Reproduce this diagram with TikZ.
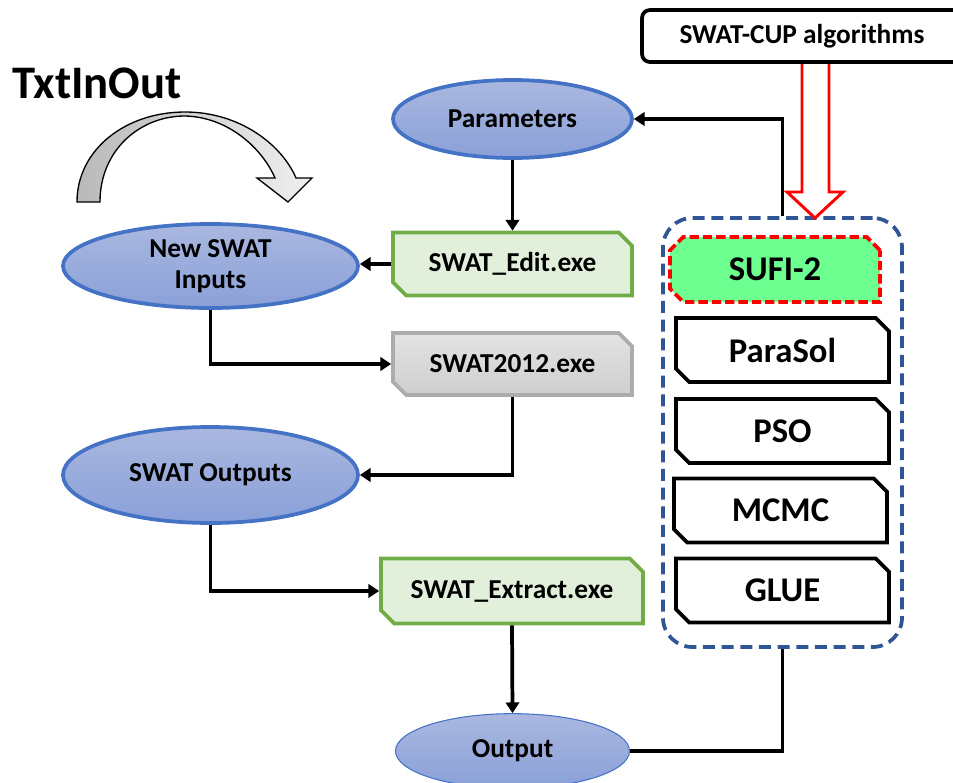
\documentclass[tikz,border=0pt]{standalone}
\usepackage{fontspec}
\setmainfont{Carlito}
\usetikzlibrary{shapes.geometric,shapes.misc,arrows.meta,calc}
\definecolor{elborder}{RGB}{68,114,196}
\definecolor{eltop}{RGB}{170,184,224}
\definecolor{elbot}{RGB}{138,160,216}
\definecolor{exefill}{RGB}{226,239,218}
\definecolor{exeborder}{RGB}{112,173,71}
\definecolor{contblue}{RGB}{47,85,151}
\definecolor{sufigreen}{RGB}{110,255,145}
\begin{document}
\begin{tikzpicture}[x=0.75pt,y=-0.75pt,
  ell/.style={ellipse, draw=elborder, line width=2.8pt, top color=eltop, bottom color=elbot, inner sep=0pt, align=center, font=\bfseries\fontsize{20.5}{23.5}\selectfont},
  chbox/.style={chamfered rectangle, chamfered rectangle corners={north east,south west}, chamfered rectangle sep=5pt, line width=2.8pt, inner sep=0pt, font=\bfseries\fontsize{20.5}{23.5}\selectfont},
  exe/.style={chbox, draw=exeborder, fill=exefill},
  alg/.style={chbox, draw=black, fill=white, font=\bfseries\fontsize{26}{30}\selectfont, minimum width=159.75pt, minimum height=48pt},
  conn/.style={line width=2.8pt, -{Triangle[length=8pt,width=10pt]}},
  plain/.style={line width=2.8pt}
]
\clip (0,0) rectangle (953,782);

% title and curved arrow
\node[font=\bfseries\fontsize{35}{40}\selectfont, anchor=base west, inner sep=0pt] (txt) at (12,98) {TxtInOut};
\draw[line width=1pt, left color=gray!55, right color=gray!12]
  (77,202) .. controls (77,150) and (125,112) .. (185,112)
  .. controls (240,112) and (282,145) .. (296,178)
  -- (312,178) -- (288,202) -- (257,178) -- (275,178)
  .. controls (262,148) and (228,117) .. (185,116)
  .. controls (140,116) and (100,150) .. (100,202) -- cycle;

% ellipses
\node[ell, minimum width=179.25pt, minimum height=58.5pt] (par) at (512.5,119) {Parameters};
\node[ell, minimum width=221.25pt, minimum height=63pt] (nsi) at (210.5,266) {New SWAT\\Inputs};
\node[ell, minimum width=221.25pt, minimum height=72pt] (swo) at (210.5,475) {SWAT Outputs};
\node[ell, line width=0.8pt, minimum width=175.5pt, minimum height=56pt] (out) at (512.5,751) {Output};

% exe boxes
\node[exe, minimum width=179.25pt, minimum height=47.25pt] (edit) at (512.5,264) {SWAT\_Edit.exe};
\node[chbox, draw=gray!65, top color=gray!22, bottom color=gray!38, minimum width=179.25pt, minimum height=46.5pt] (s2012) at (512.5,364) {SWAT2012.exe};
\node[exe, minimum width=196.5pt, minimum height=48.75pt] (extr) at (512,591) {SWAT\_Extract.exe};

% SWAT-CUP
\node[draw, line width=2.8pt, rounded corners=6pt, minimum width=240pt, minimum height=39pt, font=\bfseries\fontsize{20.5}{23.5}\selectfont] (cup) at (802,36) {SWAT-CUP algorithms};

% container
\node[draw=contblue, line width=2.8pt, dash pattern=on 9pt off 5pt, rounded corners=22pt, minimum width=179.25pt, minimum height=321.75pt] (cont) at (782.5,432.5) {};

\node[chbox, chamfered rectangle corners={north west,north east,south west}, draw=red, dash pattern=on 7pt off 3pt, fill=sufigreen, font=\bfseries\fontsize{26}{30}\selectfont, minimum width=157.5pt, minimum height=48.75pt] (sufi) at (775,269.5) {SUFI-2};
\node[alg] (paras) at (782.5,350) {ParaSol};
\node[alg] (pso) at (782.5,431) {PSO};
\node[alg] (mcmc) at (780.5,510.5) {MCMC};
\node[alg] (glue) at (782.5,590.5) {GLUE};

% red hollow arrow
\draw[red, line width=2.2pt, fill=white, line join=miter]
  (802,64) -- (802,192) -- (787,192) -- (815,218) -- (843,192) -- (829,192) -- (829,64);

% connectors
\draw[conn] (cont.north) |- (par.east);
\draw[conn] (par.south) -- (edit.north);
\draw[conn] (edit.west) -- (edit.west -| nsi.east);
\draw[conn] (nsi.south) |- (s2012.west);
\draw[conn] (s2012.south) |- (swo.east);
\draw[conn] (swo.south) |- (extr.west);
\draw[conn] (extr.south) -- (out.north);
\draw[plain] (out.east) -| (cont.south);
\end{tikzpicture}
\end{document}
